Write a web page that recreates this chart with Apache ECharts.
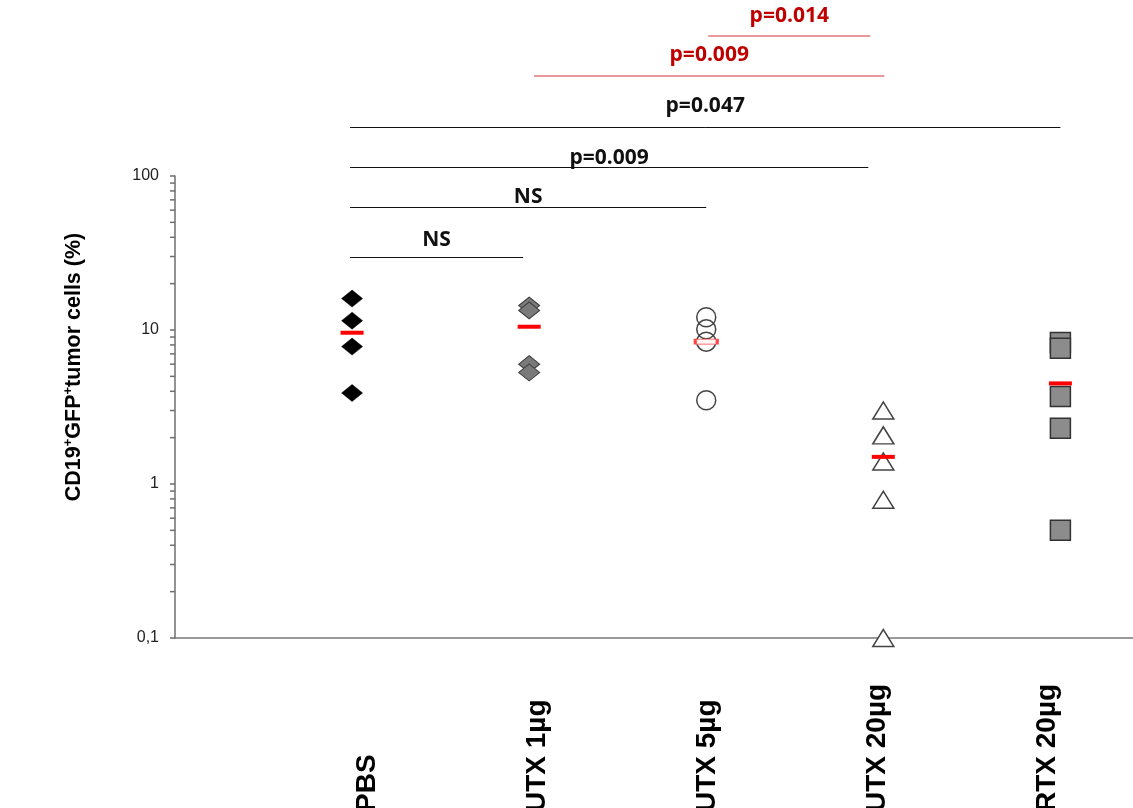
<!DOCTYPE html>
<html>
<head>
<meta charset="utf-8">
<script src="https://cdn.jsdelivr.net/npm/echarts@6/dist/echarts.min.js"></script>
<style>
html,body{margin:0;padding:0;background:#fff;}
#chart{width:1133px;height:808px;}
</style>
</head>
<body>
<div id="chart"></div>
<script>
// ---------- data ----------
const categories = ['PBS', 'UTX 1µg', 'UTX 5µg', 'UTX 20µg', 'RTX 20µg'];
const pbsValues   = [16.0, 11.5, 7.8, 3.9];
const utx1Values  = [14.4, 13.4, 6.0, 5.3];
const utx5Values  = [12.1, 10.1, 8.4, 3.5];
const utx20Values = [3.0, 2.07, 1.4, 0.79, 0.1];
const rtx20Values = [8.3, 7.6, 3.7, 2.3, 0.5];
const groupMeans  = [9.6, 10.5, 8.4, 1.5, 4.5];

const yTickValues = [0.1, 1, 10, 100];
const yTickLabels = ['0,1', '1', '10', '100'];
const yMinorTicks = [0.2, 0.3, 0.4, 0.5, 0.6, 0.7, 0.8, 0.9,
                     2, 3, 4, 5, 6, 7, 8, 9,
                     20, 30, 40, 50, 60, 70, 80, 90];

// comparisons: group index pairs and p-value labels
const compareFrom = [0, 0, 0, 0, 1, 2];
const compareTo   = [1, 2, 3, 4, 3, 3];
const compareText = ['NS', 'NS', 'p=0.009', 'p=0.047', 'p=0.009', 'p=0.014'];
const compareSignificantRed = [false, false, false, false, true, true];

// ---------- layout (pixels / styles) ----------
const bracketLineY = [257.5, 207.5, 167.5, 127.5, 76, 36];
const bracketTextY = [240, 197, 158, 106, 55, 16];
const bracketTrimL = [-2, -2, -2, -2, 5, 2];
const bracketTrimR = [-6, 0, -15, 0, 1, -13];

const chart = echarts.init(document.getElementById('chart'));

function pts(values, gi) { return values.map(v => [gi + 1, v]); }

const markerBase = { type: 'scatter', xAxisIndex: 0, yAxisIndex: 0, z: 3 };
const FONT = '"Liberation Sans", Arial, sans-serif';

const option = {
  backgroundColor: '#fff',
  animation: false,
  grid: [
    { left: 175, right: 0, top: 176, bottom: 170, outerBoundsMode: 'none', containLabel: false },
    { left: 282, right: 1, top: 176, bottom: 170, outerBoundsMode: 'none', containLabel: false }
  ],
  xAxis: [
    { type: 'value', gridIndex: 0, min: 0, max: 5.41,
      axisLine: { show: true, onZero: false, lineStyle: { color: '#7a7a7a', width: 1.5 } },
      axisTick: { show: false }, axisLabel: { show: false }, splitLine: { show: false } },
    { type: 'category', gridIndex: 1, data: categories,
      axisLine: { show: false }, axisTick: { show: false }, splitLine: { show: false },
      axisLabel: { interval: 0, rotate: 90, align: 'left', verticalAlign: 'middle', margin: 174,
        fontSize: 28, fontWeight: 'bold', fontFamily: FONT, color: '#000' } }
  ],
  yAxis: [
    { type: 'log', logBase: 10, gridIndex: 0, min: 0.1, max: 100,
      axisLine: { show: true, lineStyle: { color: '#6e6e6e', width: 1.5 } },
      axisTick: { show: true, length: 5, lineStyle: { color: '#6e6e6e', width: 1.5 } },
      minorTick: { show: false },
      splitLine: { show: false },
      axisLabel: { margin: 16, fontSize: 16, fontFamily: FONT, color: '#222',
        formatter: v => { const i = yTickValues.findIndex(t => Math.abs(Math.log10(t) - Math.log10(v)) < 1e-6); return i >= 0 ? yTickLabels[i] : ''; } } },
    { type: 'value', gridIndex: 1, show: false }
  ],
  graphic: [
    { type: 'text', x: 74, y: 367, rotation: Math.PI / 2,
      style: {
        text: '{b|CD19}{s|+}{b|GFP}{s|+}{b|tumor cells (%)}',
        align: 'center', verticalAlign: 'middle',
        rich: {
          b: { fontSize: 21.5, fontWeight: 'bold', fontFamily: FONT, fill: '#000', lineHeight: 24 },
          s: { fontSize: 13, fontWeight: 'bold', fontFamily: FONT, fill: '#000', verticalAlign: 'top', lineHeight: 24 }
        }
      } }
  ],
  series: [
    // minor ticks of the log axis
    { type: 'custom', xAxisIndex: 0, yAxisIndex: 0, silent: true, clip: false, z: 2,
      data: yMinorTicks.map(v => [0, v]),
      renderItem: (params, api) => {
        const p = api.coord([0, api.value(1)]);
        return { type: 'line', shape: { x1: p[0] - 5, y1: p[1], x2: p[0], y2: p[1] },
          style: { stroke: '#6e6e6e', lineWidth: 1.5 } };
      } },
    Object.assign({}, markerBase, { name: categories[0], data: pts(pbsValues, 0), symbol: 'diamond', symbolSize: [21, 17],
      itemStyle: { color: '#000', borderColor: '#000', borderWidth: 0.5, opacity: 1 } }),
    Object.assign({}, markerBase, { name: categories[1], data: pts(utx1Values, 1), symbol: 'diamond', symbolSize: [21, 17],
      itemStyle: { color: '#7a7a7a', borderColor: '#3c3c3c', borderWidth: 1, opacity: 1 } }),
    Object.assign({}, markerBase, { name: categories[2], data: pts(utx5Values, 2), symbol: 'circle', symbolSize: 19,
      itemStyle: { color: 'rgba(255,255,255,0)', borderColor: '#444', borderWidth: 1.5, opacity: 1 } }),
    Object.assign({}, markerBase, { name: categories[3], data: pts(utx20Values, 3), symbol: 'triangle', symbolSize: [21, 17],
      itemStyle: { color: '#fff', borderColor: '#444', borderWidth: 1.5, opacity: 1 } }),
    Object.assign({}, markerBase, { name: categories[4], data: pts(rtx20Values, 4), symbol: 'rect', symbolSize: 20,
      itemStyle: { color: '#8c8c8c', borderColor: '#333', borderWidth: 1.5, opacity: 1 } }),
    // group means
    { type: 'scatter', xAxisIndex: 0, yAxisIndex: 0, z: 5, symbol: 'rect', symbolSize: [23, 4],
      data: groupMeans.map((m, i) => i === 2
        ? { value: [i + 1, m], itemStyle: { color: '#fff4f4', borderColor: '#ff4444', borderWidth: 1.5, opacity: 1 }, symbolSize: [22, 5] }
        : { value: [i + 1, m], itemStyle: { color: '#ff0000', opacity: 1 } }) },
    // comparison brackets
    { type: 'custom', xAxisIndex: 0, yAxisIndex: 0, silent: true, clip: false, z: 4,
      data: compareText.map((t, i) => [i, 1]),
      renderItem: (params, api) => {
        const i = api.value(0);
        const x1 = api.coord([compareFrom[i] + 1, 1])[0] + bracketTrimL[i];
        const x2 = api.coord([compareTo[i] + 1, 1])[0] + bracketTrimR[i];
        const red = compareSignificantRed[i];
        return { type: 'group', children: [
          { type: 'line', shape: { x1: x1, y1: bracketLineY[i], x2: x2, y2: bracketLineY[i] },
            style: { stroke: red ? '#e07878' : '#111', lineWidth: red ? 1.5 : 1 } },
          { type: 'text', x: (x1 + x2) / 2, y: bracketTextY[i],
            style: { text: compareText[i], align: 'center', verticalAlign: 'middle',
              fontSize: 21, fontWeight: 'bold', fontFamily: '"Open Sans", sans-serif',
              fill: red ? '#c00000' : '#111' } }
        ] };
      } }
  ]
};
chart.setOption(option);
</script>
</body>
</html>
